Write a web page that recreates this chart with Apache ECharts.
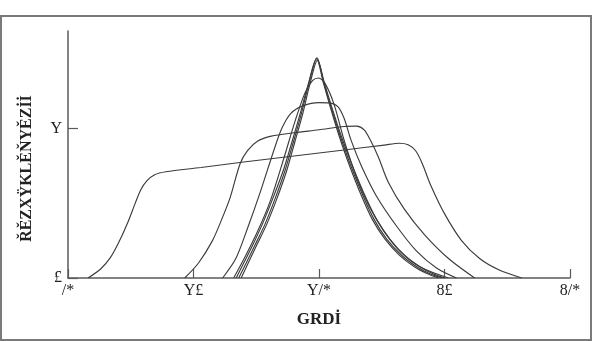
<!DOCTYPE html>
<html>
<head><meta charset="utf-8">
<script src="https://cdn.jsdelivr.net/npm/echarts@6/dist/echarts.min.js"></script>
</head>
<body style="margin:0;background:#fff;">
<div id="main" style="width:593px;height:342px;"></div>
<script type="text/javascript">
// tick values and the labels as they appear in the picture
var xTicks = [5, 10, 15, 20, 25];
var xTickLabels = ['/*', 'Y£', 'Y/*', '8£', '8/*'];
var yTicks = [0, 1];
var yTickLabels = ['£', 'Y'];
var xName = 'GRDİ';
var yName = 'ŘĚZXŸKLĚŇYĚZİİ';

// curves, [x, y]
var curveA = [[5.8,0],[6.3,0.06],[6.68,0.134],[7.0,0.23],[7.36,0.362],[7.68,0.5],[7.9,0.59],[8.15,0.65],[8.45,0.69],[8.9,0.71],[10.3,0.738],[12,0.775],[14,0.815],[16,0.855],[17.6,0.888],[18.2,0.9],[18.55,0.89],[18.85,0.85],[19.1,0.77],[19.45,0.62],[20.0,0.43],[20.68,0.25],[21.4,0.13],[22.16,0.055],[23.08,0]];
var curveB = [[9.65,0],[10.2,0.1],[10.75,0.248],[11.12,0.39],[11.46,0.537],[11.86,0.765],[12.16,0.852],[12.56,0.915],[13.1,0.948],[14.0,0.97],[15.0,0.99],[16.0,1.012],[16.5,1.015],[16.8,0.99],[17.05,0.92],[17.36,0.81],[17.76,0.64],[18.4,0.46],[19.2,0.29],[20.16,0.13],[21.2,0]];
var curveC = [[11.16,0],[11.68,0.128],[12.16,0.336],[12.68,0.584],[13.2,0.852],[13.52,1.0],[13.88,1.1],[14.36,1.15],[15.0,1.172],[15.4,1.17],[15.75,1.145],[16.0,1.067],[16.28,0.919],[16.68,0.752],[17.28,0.55],[18.08,0.349],[18.88,0.181],[19.68,0.067],[20.48,0]];
var curveD = [[11.6,0],[12.05,0.14],[12.55,0.31],[13.05,0.51],[13.6,0.8],[14.05,1.05],[14.45,1.24],[14.75,1.32],[14.98,1.336],[15.24,1.3],[15.6,1.16],[16.0,0.92],[16.5,0.67],[17.0,0.48],[17.6,0.31],[18.28,0.17],[19.08,0.07],[20.16,0]];
var curveE = [[11.8,0],[12.1,0.1],[12.45,0.22],[12.85,0.36],[13.25,0.53],[13.65,0.72],[14.0,0.92],[14.3,1.1],[14.6,1.3],[14.92,1.47],[15.2,1.3],[15.5,1.13],[15.8,0.97],[16.2,0.78],[16.7,0.57],[17.2,0.39],[17.7,0.26],[18.3,0.15],[18.9,0.075],[19.4,0.03],[19.9,0]];
var curveF = [[11.7,0],[12.0,0.1],[12.36,0.22],[12.77,0.37],[13.18,0.54],[13.6,0.73],[13.96,0.93],[14.27,1.11],[14.58,1.3],[14.9,1.465],[15.18,1.3],[15.47,1.13],[15.76,0.97],[16.15,0.78],[16.64,0.57],[17.13,0.39],[17.63,0.26],[18.22,0.15],[18.8,0.075],[19.3,0.03],[19.75,0]];
var curveG = [[11.9,0],[12.18,0.1],[12.52,0.22],[12.92,0.36],[13.3,0.52],[13.7,0.71],[14.04,0.91],[14.34,1.09],[14.63,1.29],[14.94,1.455],[15.22,1.3],[15.53,1.13],[15.84,0.97],[16.26,0.78],[16.78,0.57],[17.3,0.39],[17.82,0.26],[18.42,0.15],[19.02,0.075],[19.52,0.03],[20.0,0]];

var curves = [curveA, curveB, curveC, curveD, curveE, curveF, curveG];

var series = curves.map(function (c) {
    return {
        type: 'line',
        data: c,
        showSymbol: false,
        smooth: 0.3,
        lineStyle: { color: '#3c3c3c', width: 1.15 },
        silent: true
    };
});

var myChart = echarts.init(document.getElementById('main'));
myChart.setOption({
    animation: false,
    graphic: [{
        type: 'rect',
        shape: { x: 1, y: 16, width: 590, height: 324 },
        style: { fill: null, stroke: '#7a7a7a', lineWidth: 2 }
    }],
    grid: { left: 68, right: 23, top: 31, bottom: 64 },
    xAxis: {
        type: 'value',
        min: 5, max: 25, interval: 5,
        splitLine: { show: false },
        axisLine: { lineStyle: { color: '#5a5a5a', width: 1.5 } },
        axisTick: { inside: true, length: 9, lineStyle: { color: '#5a5a5a', width: 1.2 } },
        axisLabel: {
            margin: 5,
            color: '#222',
            fontFamily: 'Liberation Serif',
            fontSize: 16,
            formatter: function (v) {
                var i = xTicks.indexOf(v);
                return i >= 0 ? xTickLabels[i] : '';
            }
        },
        name: xName,
        nameLocation: 'middle',
        nameGap: 33,
        nameTextStyle: { color: '#222', fontFamily: 'Liberation Serif', fontWeight: 'bold', fontSize: 17 }
    },
    yAxis: {
        type: 'value',
        min: 0, max: 1.65,
        splitLine: { show: false },
        axisLine: { lineStyle: { color: '#5a5a5a', width: 1.5 } },
        axisTick: { inside: true, length: 10, customValues: yTicks, lineStyle: { color: '#5a5a5a', width: 1.2 } },
        axisLabel: {
            margin: 6,
            color: '#222',
            fontFamily: 'Liberation Serif',
            fontSize: 16,
            customValues: yTicks,
            formatter: function (v) {
                var i = yTicks.indexOf(v);
                return i >= 0 ? yTickLabels[i] : '';
            }
        },
        name: yName,
        nameLocation: 'middle',
        nameGap: 33,
        nameTextStyle: { color: '#222', fontFamily: 'Liberation Serif', fontWeight: 'bold', fontSize: 16, padding: [0, 28, 0, 0] }
    },
    series: series
});
</script>
</body>
</html>
